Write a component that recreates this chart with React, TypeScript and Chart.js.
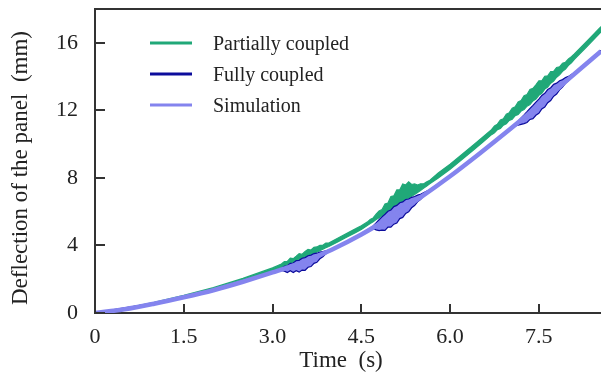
import React, { useEffect, useRef } from "react";
import { Chart, registerables } from "chart.js";

Chart.register(...registerables);

// ---------- data ----------
const xTicks = [0, 1.5, 3.0, 4.5, 6.0, 7.5];
const xTickLabels = ["0", "1.5", "3.0", "4.5", "6.0", "7.5"];
const yTicks = [0, 4, 8, 12, 16];
const yTickLabels = ["0", "4", "8", "12", "16"];

const xTitle = "Time  (s)";
const yTitle = "Deflection of the panel  (mm)";
const legendLabels = ["Partially coupled", "Fully coupled", "Simulation"];

// Simulation (s, mm)
const simT = [0, 0.5, 1, 1.5, 2, 2.5, 3, 3.5, 4, 4.5, 5, 5.5, 6, 6.5, 7, 7.5, 8, 8.55];
const simV = [0, 0.22, 0.55, 0.93, 1.35, 1.85, 2.4, 3.0, 3.75, 4.65, 5.7, 6.85, 8.1, 9.45, 10.85, 12.3, 13.85, 15.5];

// Partially coupled: noisy band (upper / lower envelope)
const partialT = [
  0, 0.5, 1, 1.5, 2, 2.5, 3.0,
  3.15, 3.2, 3.25, 3.3, 3.35, 3.4, 3.45, 3.5, 3.55, 3.6, 3.65, 3.7, 3.75, 3.8, 3.85, 3.9, 3.95,
  4.1, 4.25, 4.4, 4.5,
  4.6, 4.65, 4.7, 4.75, 4.8, 4.85, 4.9, 4.95, 5.0, 5.05, 5.1, 5.15, 5.2, 5.25, 5.3, 5.35, 5.4, 5.45, 5.5, 5.55, 5.6, 5.65,
  5.8, 6.0, 6.2, 6.4, 6.55,
  6.7, 6.75, 6.8, 6.85, 6.9, 6.95, 7.0, 7.05, 7.1, 7.15, 7.2, 7.25, 7.3, 7.35, 7.4, 7.45, 7.5, 7.55, 7.6, 7.65, 7.7, 7.75, 7.8, 7.85, 7.9, 7.95, 8.0, 8.05, 8.1,
  8.3, 8.55,
];
const partialHi = [
  0, 0.28, 0.63, 1.04, 1.5, 2.05, 2.67,
  2.9, 3.05, 3.06, 3.25, 3.22, 3.36, 3.51, 3.48, 3.64, 3.76, 3.73, 3.89, 3.91, 4.01, 4.01, 4.14, 4.14,
  4.43, 4.71, 4.98, 5.17,
  5.38, 5.54, 5.63, 5.85, 6.04, 6.12, 6.45, 6.51, 6.9, 6.94, 7.29, 7.29, 7.64, 7.58, 7.77, 7.61, 7.64, 7.58, 7.65, 7.64, 7.75, 7.84,
  8.29, 8.81, 9.39, 9.97, 10.41,
  10.86, 11.07, 11.18, 11.43, 11.5, 11.77, 11.86, 12.13, 12.21, 12.5, 12.58, 12.87, 12.93, 13.24, 13.3, 13.51, 13.75, 13.75, 14.02, 14.04, 14.29, 14.31, 14.54, 14.58, 14.79, 14.85, 15.04, 15.18, 15.34,
  16.05, 16.96,
];
const partialLo = [
  0, 0.2, 0.53, 0.92, 1.36, 1.89, 2.49,
  2.7, 2.77, 2.84, 2.91, 2.98, 3.06, 3.13, 3.2, 3.28, 3.36, 3.45, 3.53, 3.61, 3.69, 3.77, 3.86, 3.94,
  4.21, 4.49, 4.76, 4.95,
  5.18, 5.3, 5.41, 5.53, 5.64, 5.76, 5.87, 5.99, 6.1, 6.22, 6.33, 6.45, 6.56, 6.68, 6.79, 6.91, 7.02, 7.14, 7.25, 7.38, 7.51, 7.64,
  7.99, 8.51, 9.09, 9.67, 10.11,
  10.56, 10.67, 10.86, 10.93, 11.12, 11.21, 11.4, 11.47, 11.69, 11.76, 11.96, 12.05, 12.25, 12.34, 12.56, 12.67, 12.89, 13.01, 13.26, 13.38, 13.61, 13.73, 13.96, 14.1, 14.31, 14.45, 14.66, 14.82, 15.02,
  15.73, 16.64,
];

// Fully coupled: noisy band (upper / lower envelope)
const fullT = [
  0, 1, 2, 3.0,
  3.15, 3.2, 3.25, 3.3, 3.35, 3.4, 3.45, 3.5, 3.55, 3.6, 3.65, 3.7, 3.75, 3.8, 3.85, 3.9, 3.95,
  4.2, 4.5,
  4.7, 4.75, 4.8, 4.85, 4.9, 4.95, 5.0, 5.05, 5.1, 5.15, 5.2, 5.25, 5.3, 5.35, 5.4, 5.45, 5.5, 5.55, 5.6, 5.65,
  6.0, 6.5, 7.0,
  7.1, 7.15, 7.2, 7.25, 7.3, 7.35, 7.4, 7.45, 7.5, 7.55, 7.6, 7.65, 7.7, 7.75, 7.8, 7.85, 7.9, 7.95, 8.0, 8.05, 8.1, 8.15,
  8.55,
];
const fullHi = [
  0.02, 0.59, 1.39, 2.44,
  2.64, 2.76, 2.8, 2.94, 2.96, 3.1, 3.12, 3.24, 3.28, 3.39, 3.43, 3.52, 3.54, 3.61, 3.63, 3.68, 3.73,
  4.15, 4.69,
  5.15, 5.34, 5.52, 5.69, 5.85, 6.02, 6.1, 6.3, 6.37, 6.53, 6.58, 6.72, 6.75, 6.85, 6.9, 6.98, 7.03, 7.12, 7.2, 7.28,
  8.14, 9.49, 10.89,
  11.19, 11.36, 11.55, 11.73, 11.92, 12.12, 12.29, 12.49, 12.66, 12.88, 13.01, 13.23, 13.34, 13.54, 13.61, 13.75, 13.82, 13.94, 14.01, 14.12, 14.23, 14.35,
  15.54,
];
const fullLo = [
  0, 0.51, 1.31, 2.36,
  2.52, 2.48, 2.4, 2.5, 2.4, 2.5, 2.42, 2.54, 2.53, 2.71, 2.75, 2.94, 3.0, 3.21, 3.33, 3.5, 3.62,
  4.07, 4.61,
  4.99, 4.92, 4.88, 4.91, 4.89, 5.08, 5.08, 5.26, 5.33, 5.59, 5.66, 5.9, 5.99, 6.23, 6.36, 6.58, 6.71, 6.9, 7.04, 7.19,
  8.06, 9.41, 10.81,
  11.08, 11.12, 11.17, 11.21, 11.28, 11.46, 11.51, 11.71, 11.82, 12.08, 12.19, 12.45, 12.58, 12.84, 12.97, 13.21, 13.38, 13.6, 13.75, 13.94, 14.1, 14.26,
  15.46,
];

// ---------- styles ----------
const GREEN = "#20a878";
const DARKBLUE = "#0c0c9c";
const PURPLE = "#8484ee";
const AXIS = "#333333";
const TEXT = "#222222";
const FONT = "'Liberation Serif', 'Times New Roman', serif";

const pts = (t: number[], v: number[]) => t.map((x, i) => ({ x, y: v[i] }));

const decorPlugin = {
  id: "decor",
  afterDraw(chart: any) {
    const { ctx, chartArea, scales } = chart;
    const { left, right, top, bottom } = chartArea;
    ctx.save();
    ctx.strokeStyle = AXIS;
    ctx.lineWidth = 2;
    ctx.beginPath();
    ctx.moveTo(left - 1, top);
    ctx.lineTo(right, top);
    ctx.stroke();
    ctx.beginPath();
    scales.x.ticks.forEach((t: any) => {
      const px = Math.round(scales.x.getPixelForValue(t.value));
      ctx.moveTo(px, bottom);
      ctx.lineTo(px, bottom - 9);
    });
    scales.y.ticks.forEach((t: any) => {
      const py = Math.round(scales.y.getPixelForValue(t.value));
      ctx.moveTo(left, py);
      ctx.lineTo(left + 10, py);
    });
    ctx.stroke();

    // axis titles
    ctx.fillStyle = TEXT;
    ctx.font = `23px ${FONT}`;
    ctx.textAlign = "center";
    ctx.textBaseline = "middle";
    ctx.fillText(xTitle, 341, 361);
    ctx.save();
    ctx.translate(21, 168);
    ctx.rotate(-Math.PI / 2);
    ctx.fillText(yTitle, 0, 0);
    ctx.restore();

    // legend
    const colors = [GREEN, DARKBLUE, PURPLE];
    const ys = [43, 74, 105];
    ctx.font = `20px ${FONT}`;
    ctx.textBaseline = "alphabetic";
    ctx.textAlign = "left";
    legendLabels.forEach((lab, i) => {
      ctx.strokeStyle = colors[i];
      ctx.lineWidth = 3;
      ctx.beginPath();
      ctx.moveTo(150, ys[i]);
      ctx.lineTo(192, ys[i]);
      ctx.stroke();
      ctx.fillText(lab, 213, ys[i] + 7);
    });
    ctx.restore();
  },
};

export default function App() {
  const ref = useRef<HTMLCanvasElement | null>(null);
  useEffect(() => {
    document.body.style.margin = "0";
    const canvas = ref.current;
    if (!canvas) return;
    const chart = new Chart(canvas, {
      type: "line",
      data: {
        datasets: [
          {
            label: legendLabels[2],
            data: pts(simT, simV),
            borderColor: PURPLE,
            borderWidth: 4.5,
            pointRadius: 0,
            fill: false,
            cubicInterpolationMode: "monotone",
            order: 0,
          },
          {
            label: legendLabels[1],
            data: pts(fullT, fullHi),
            borderColor: DARKBLUE,
            borderWidth: 1.2,
            pointRadius: 0,
            fill: false,
            order: 1,
          },
          {
            label: "",
            data: pts(fullT, fullLo),
            borderColor: DARKBLUE,
            backgroundColor: PURPLE,
            borderWidth: 1.2,
            pointRadius: 0,
            fill: "-1",
            order: 1,
          },
          {
            label: legendLabels[0],
            data: pts(partialT, partialHi),
            borderColor: GREEN,
            borderWidth: 1.2,
            pointRadius: 0,
            fill: false,
            order: 2,
          },
          {
            label: "",
            data: pts(partialT, partialLo),
            borderColor: GREEN,
            backgroundColor: GREEN,
            borderWidth: 1.2,
            pointRadius: 0,
            fill: "-1",
            order: 2,
          },
        ] as any,
      },
      options: {
        animation: false,
        responsive: false,
        devicePixelRatio: 1,
        layout: { padding: { top: 9, right: 0, left: 0, bottom: 0 } },
        plugins: {
          legend: { display: false },
          tooltip: { enabled: false },
        },
        scales: {
          x: {
            type: "linear",
            min: 0,
            max: 8.55,
            afterBuildTicks: (s: any) => {
              s.ticks = xTicks.map((v) => ({ value: v }));
            },
            afterFit: (s: any) => {
              s.height = 67;
              s.paddingLeft = 0;
              s.paddingRight = 0;
            },
            ticks: {
              callback: (_v: any, i: number) => xTickLabels[i],
              autoSkip: false,
              maxRotation: 0,
              font: { family: FONT, size: 22 },
              color: TEXT,
              padding: 11,
            },
            grid: { display: false, drawTicks: false },
            border: { display: true, color: AXIS, width: 2 },
          },
          y: {
            type: "linear",
            min: 0,
            max: 18,
            afterBuildTicks: (s: any) => {
              s.ticks = yTicks.map((v) => ({ value: v }));
            },
            afterFit: (s: any) => {
              s.width = 95;
              s.paddingTop = 0;
              s.paddingBottom = 0;
            },
            ticks: {
              callback: (_v: any, i: number) => yTickLabels[i],
              autoSkip: false,
              font: { family: FONT, size: 22 },
              color: TEXT,
              padding: 17,
            },
            grid: { display: false, drawTicks: false },
            border: { display: true, color: AXIS, width: 2 },
          },
        },
      } as any,
      plugins: [decorPlugin],
    });
    return () => chart.destroy();
  }, []);
  return (
    <div style={{ width: 601, height: 380 }}>
      <canvas ref={ref} width={601} height={380} style={{ display: "block" }} />
    </div>
  );
}
